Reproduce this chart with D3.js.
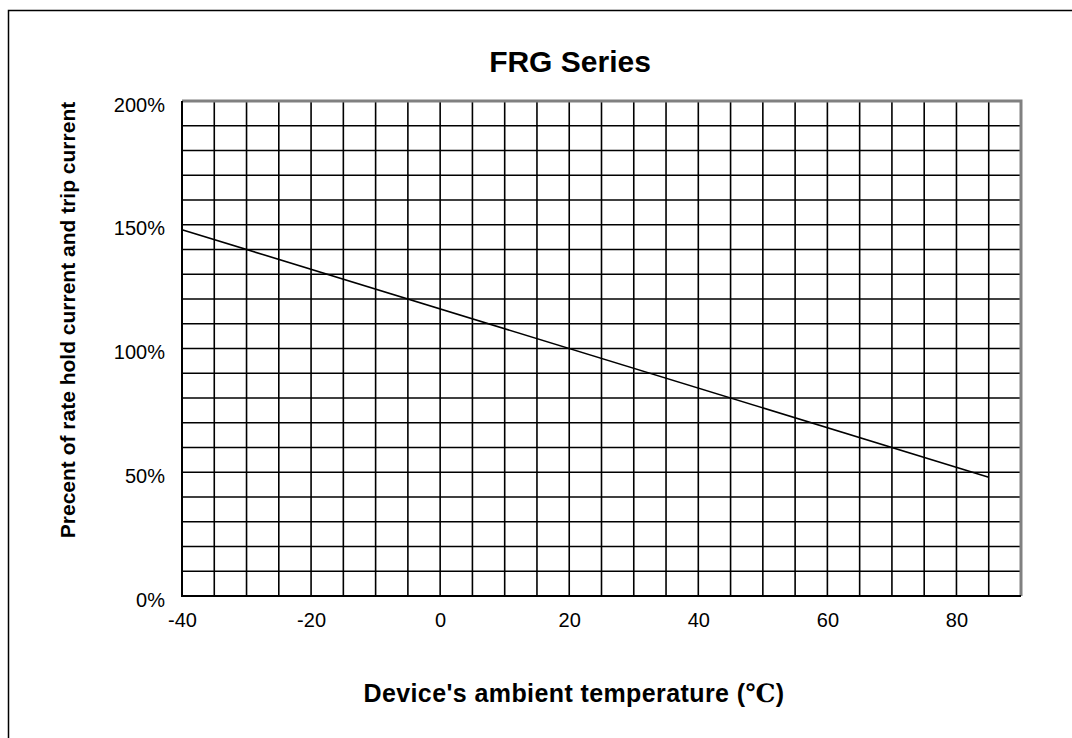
<!DOCTYPE html>
<html>
<head>
<meta charset="utf-8">
<script src="https://cdn.jsdelivr.net/npm/d3@7"></script>
<style>
  body { margin: 0; background: #fff; }
  text { font-family: Arial, "Liberation Sans", sans-serif; fill: #000; }
</style>
</head>
<body>
<script>
// derating line, temperature (C) vs percent of rated current
var temps = [-40, 85];
var percents = [148, 48];
var xTickLabels = [-40, -20, 0, 20, 40, 60, 80];
var yTickLabels = [0, 50, 100, 150, 200];

var W = 1072, H = 738;
var margin = {top: 101, right: 51, bottom: 142, left: 182},
    width = W - margin.left - margin.right,
    height = H - margin.top - margin.bottom;

var svg = d3.select("body").append("svg")
    .attr("width", W)
    .attr("height", H);

// outer frame
svg.append("rect")
    .attr("x", 8.5).attr("y", 10.5)
    .attr("width", 1080).attr("height", 800)
    .attr("fill", "none")
    .attr("stroke", "#000")
    .attr("stroke-width", 1.5);

var x = d3.scaleLinear().domain([-40, 90]).range([0, width]);
var y = d3.scaleLinear().domain([0, 200]).range([height, 0]);

var g = svg.append("g")
    .attr("transform", "translate(" + margin.left + "," + margin.top + ")");

// grid every 5 degrees / 10 percent
g.append("g").selectAll("line")
    .data(d3.range(-35, 90, 5))
  .enter().append("line")
    .attr("x1", function(d) { return x(d); })
    .attr("x2", function(d) { return x(d); })
    .attr("y1", 0).attr("y2", height)
    .attr("stroke", "#000").attr("stroke-width", 1.6);

g.append("g").selectAll("line")
    .data(d3.range(10, 200, 10))
  .enter().append("line")
    .attr("y1", function(d) { return y(d); })
    .attr("y2", function(d) { return y(d); })
    .attr("x1", 0).attr("x2", width)
    .attr("stroke", "#000").attr("stroke-width", 1.6);

// plot border: grey top/right, black left/bottom
g.append("path")
    .attr("d", "M0," + y(200) + "H" + x(90) + "V" + y(0))
    .attr("fill", "none").attr("stroke", "#808080").attr("stroke-width", 3);
g.append("path")
    .attr("d", "M0," + y(200) + "V" + y(0) + "H" + x(90))
    .attr("fill", "none").attr("stroke", "#000").attr("stroke-width", 2);

// axes (labels only)
var xAxis = g.append("g")
    .attr("transform", "translate(0," + height + ")")
    .call(d3.axisBottom(x).tickValues(xTickLabels).tickSize(0).tickPadding(17)
      .tickFormat(function(d) { return String(d); }));
var yAxis = g.append("g")
    .call(d3.axisLeft(y).tickValues(yTickLabels).tickSize(0).tickPadding(17)
      .tickFormat(function(d) { return d + "%"; }));
[xAxis, yAxis].forEach(function(a) {
  a.select(".domain").remove();
  a.attr("font-size", null).attr("font-family", null);
  a.selectAll("text").style("font-size", "20px");
});
yAxis.selectAll("text").attr("dy", "0.5em");

// the curve
var line = d3.line()
    .x(function(d, i) { return x(temps[i]); })
    .y(function(d) { return y(d); });
g.append("path")
    .datum(percents)
    .attr("d", line)
    .attr("fill", "none")
    .attr("stroke", "#000")
    .attr("stroke-width", 1.6);

// titles
svg.append("text")
    .attr("x", 570).attr("y", 72)
    .attr("text-anchor", "middle")
    .style("font-size", "30px").attr("font-weight", "bold")
    .text("FRG Series");

var xl = svg.append("text")
    .attr("x", 574).attr("y", 702)
    .attr("text-anchor", "middle")
    .style("font-size", "25px").style("letter-spacing", "0.4px")
    .attr("font-weight", "bold");
xl.append("tspan").text("Device's ambient temperature (");
xl.append("tspan").style("font-family", "'Liberation Serif', 'DejaVu Serif', serif").text("\u2103");
xl.append("tspan").text(")");

svg.append("text")
    .attr("transform", "translate(75,320) rotate(-90)")
    .attr("text-anchor", "middle")
    .style("font-size", "21px").attr("font-weight", "bold")
    .text("Precent of rate hold current and trip current");
</script>
</body>
</html>
